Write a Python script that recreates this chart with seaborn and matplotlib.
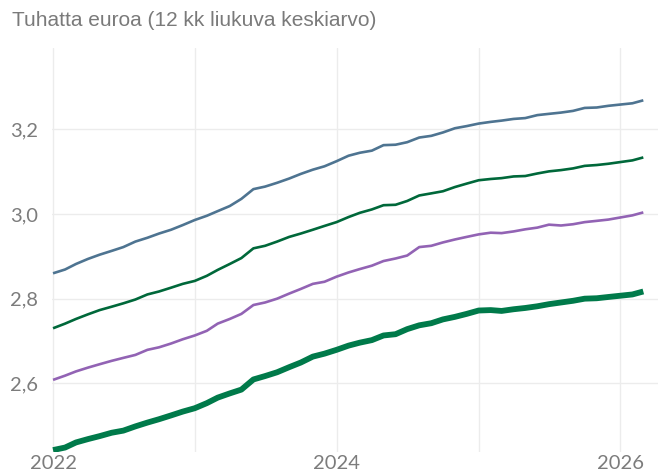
import matplotlib
matplotlib.use("Agg")
import matplotlib.pyplot as plt
import numpy as np
import pandas as pd
import seaborn as sns

# Monthly points, Jan 2022 – Mar 2026
months = pd.date_range("2022-01-01", periods=51, freq="MS")

series_a = [2.860, 2.869, 2.882, 2.894, 2.904, 2.913, 2.922, 2.935, 2.944, 2.954,
            2.963, 2.974, 2.986, 2.996, 3.007, 3.019, 3.036, 3.059, 3.065, 3.074,
            3.084, 3.095, 3.105, 3.113, 3.125, 3.138, 3.145, 3.150, 3.163, 3.164,
            3.170, 3.181, 3.185, 3.193, 3.203, 3.208, 3.214, 3.218, 3.221, 3.225,
            3.227, 3.234, 3.237, 3.240, 3.244, 3.251, 3.252, 3.256, 3.259, 3.262,
            3.269]
series_b = [2.730, 2.741, 2.752, 2.763, 2.773, 2.781, 2.789, 2.798, 2.810, 2.817,
            2.826, 2.835, 2.842, 2.854, 2.868, 2.882, 2.896, 2.919, 2.925, 2.935,
            2.946, 2.954, 2.963, 2.972, 2.981, 2.993, 3.003, 3.011, 3.021, 3.022,
            3.031, 3.044, 3.049, 3.054, 3.064, 3.072, 3.080, 3.083, 3.085, 3.089,
            3.090, 3.096, 3.101, 3.104, 3.108, 3.114, 3.116, 3.119, 3.123, 3.127,
            3.134]
series_c = [2.608, 2.618, 2.628, 2.637, 2.645, 2.653, 2.660, 2.667, 2.679, 2.685,
            2.694, 2.704, 2.713, 2.724, 2.741, 2.752, 2.764, 2.785, 2.791, 2.800,
            2.812, 2.823, 2.835, 2.840, 2.852, 2.862, 2.870, 2.878, 2.889, 2.895,
            2.902, 2.922, 2.925, 2.933, 2.940, 2.946, 2.952, 2.956, 2.955, 2.959,
            2.964, 2.968, 2.975, 2.973, 2.976, 2.981, 2.984, 2.987, 2.992, 2.997,
            3.004]
series_d = [2.442, 2.448, 2.460, 2.468, 2.475, 2.483, 2.488, 2.498, 2.507, 2.515,
            2.524, 2.533, 2.541, 2.553, 2.566, 2.576, 2.585, 2.609, 2.617, 2.626,
            2.638, 2.649, 2.663, 2.670, 2.679, 2.689, 2.696, 2.702, 2.713, 2.716,
            2.728, 2.737, 2.742, 2.751, 2.757, 2.764, 2.772, 2.773, 2.771, 2.775,
            2.778, 2.782, 2.787, 2.791, 2.795, 2.800, 2.801, 2.804, 2.807, 2.810,
            2.817]

y_ticks = [2.6, 2.8, 3.0, 3.2]
y_tick_labels = ["2,6", "2,8", "3,0", "3,2"]
x_tick_years = [2022, 2023, 2024, 2025, 2026]
x_tick_labels = ["2022", "", "2024", "", "2026"]
title = "Tuhatta euroa (12 kk liukuva keskiarvo)"

sns.set_theme(style="white")
plt.rcParams["font.family"] = ["Lato", "DejaVu Sans"]

fig = plt.figure(figsize=(6.65, 4.74), dpi=100)
ax = fig.add_axes([0.078, 0.046, 0.911, 0.853])

lines = [
    (series_a, "#4e7491", 1.9),
    (series_b, "#00683a", 1.9),
    (series_c, "#9263b4", 1.9),
    (series_d, "#007a4a", 4.2),
]
for values, color, lw in lines:
    df = pd.DataFrame({"kk": months, "arvo": values})
    sns.lineplot(data=df, x="kk", y="arvo", ax=ax, color=color,
                 linewidth=lw, solid_capstyle="butt", solid_joinstyle="round")

ax.set_xlim(pd.Timestamp("2021-12-29"), pd.Timestamp("2026-04-07"))
ax.set_ylim(2.437, 3.393)

ax.set_xticks([pd.Timestamp(f"{y}-01-01") for y in x_tick_years])
ax.set_xticklabels(x_tick_labels)
ax.set_yticks(y_ticks)
ax.set_yticklabels(y_tick_labels)

ax.grid(True, color="#ececec", linewidth=1.0)
ax.set_axisbelow(True)
for s in ax.spines.values():
    s.set_visible(False)
ax.tick_params(axis="both", length=0, labelsize=14.5, labelcolor="#7c7c7c")
ax.tick_params(axis="x", pad=2)
ax.tick_params(axis="y", pad=10)
ax.set_xlabel("")
ax.set_ylabel("")

fig.text(0.018, 0.956, title, fontsize=15, color="#7a7a7a",
         ha="left", va="center", family=["Liberation Sans", "DejaVu Sans"])

fig.savefig("out.png", dpi=100)
